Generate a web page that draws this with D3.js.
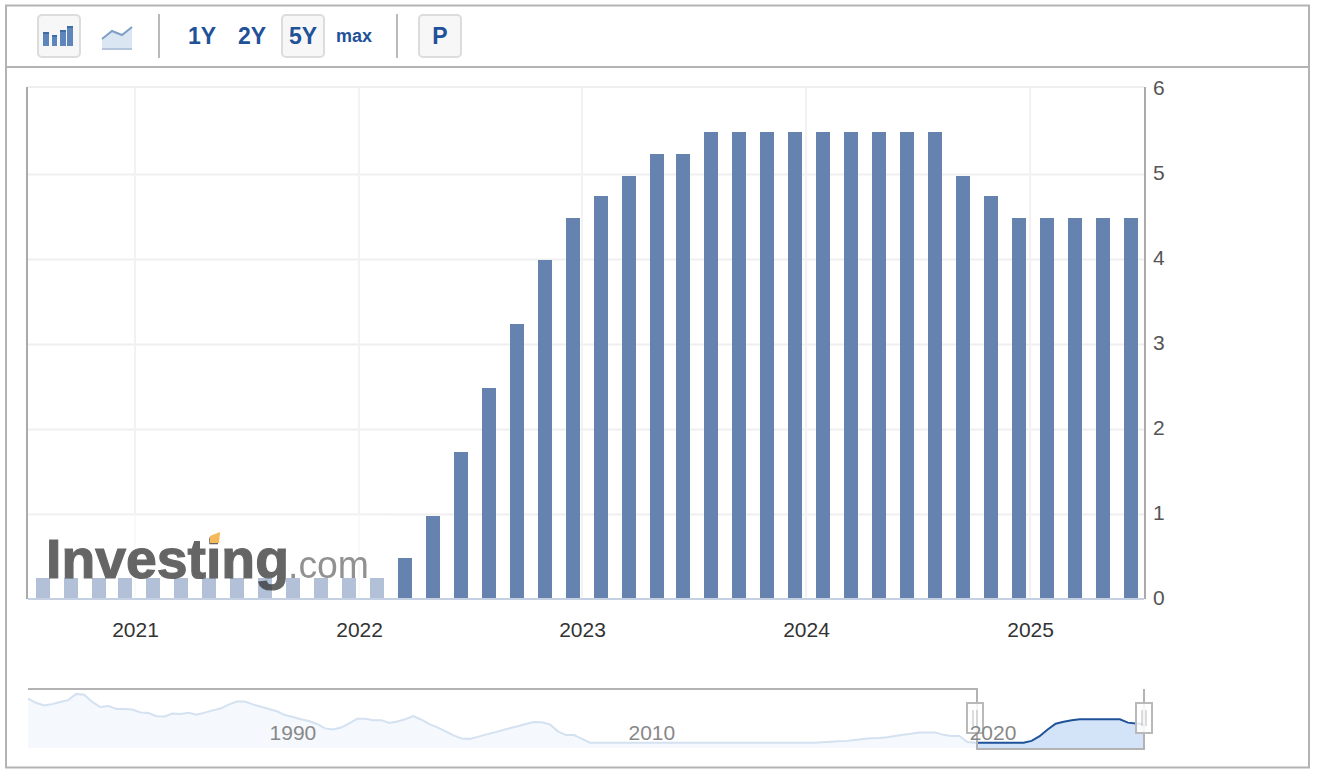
<!DOCTYPE html>
<html>
<head>
<meta charset="utf-8">
<script src="https://cdn.jsdelivr.net/npm/d3@7/dist/d3.min.js"></script>
<style>
  html, body { margin: 0; padding: 0; background: #fff; }
  text { font-family: "Liberation Sans", Arial, sans-serif; }
</style>
</head>
<body>
<svg id="chart" width="1318" height="776"></svg>
<script>
// one bar per rate decision, spaced evenly (ordinal axis)
const meetings = [
  "2020-07", "2020-09", "2020-11", "2020-12", "2021-01", "2021-03", "2021-04", "2021-06",
  "2021-07", "2021-09", "2021-11", "2021-12", "2022-01", "2022-03", "2022-05", "2022-06",
  "2022-07", "2022-09", "2022-11", "2022-12", "2023-02", "2023-03", "2023-05", "2023-06",
  "2023-07", "2023-09", "2023-11", "2023-12", "2024-01", "2024-03", "2024-05", "2024-06",
  "2024-07", "2024-09", "2024-11", "2024-12", "2025-01", "2025-03", "2025-05", "2025-06"
];
const rates = [
  0.25, 0.25, 0.25, 0.25, 0.25, 0.25, 0.25, 0.25,
  0.25, 0.25, 0.25, 0.25, 0.25, 0.5, 1, 1.75,
  2.5, 3.25, 4, 4.5, 4.75, 5, 5.25, 5.25,
  5.5, 5.5, 5.5, 5.5, 5.5, 5.5, 5.5, 5.5,
  5.5, 5, 4.75, 4.5, 4.5, 4.5, 4.5, 4.5
];
const yTicks = [0, 1, 2, 3, 4, 5, 6];
const yearLabels = ["2021", "2022", "2023", "2024", "2025"];
// where each year starts, counted in bars from the first one
const yearPositions = [3.29, 11.32, 19.31, 27.34, 35.37];

// the long history in the navigator, evenly sampled
const historyValues = [
  10.15, 9.2, 8.6, 8.9, 9.4, 9.8, 11.2, 11, 9.4, 8.25, 8.5, 7.8, 7.8, 7.7, 7.05, 6.9,
  6.2, 6.15, 6.8, 6.7, 6.95, 6.5, 7, 7.5, 7.9, 8.8, 9.5, 9.5, 8.85, 8.3, 7.8, 7.3,
  6.45, 6, 5.5, 5.1, 4.45, 3.45, 3.2, 3.65, 4.6, 5.6, 5.6, 5.3, 5.3, 4.65, 5, 5.5,
  6.2, 5.4, 4.4, 3.7, 2.8, 1.9, 1.2, 1.1, 1.55, 2.05, 2.5, 3, 3.5, 3.95, 4.45, 4.9,
  4.85, 4.35, 2.8, 1.95, 1.95, 1.1, 0.25, 0.25, 0.25, 0.25, 0.25, 0.25, 0.25, 0.25,
  0.25, 0.25, 0.25, 0.25, 0.25, 0.25, 0.25, 0.25, 0.25, 0.25, 0.25, 0.25, 0.25, 0.25,
  0.25, 0.25, 0.25, 0.25, 0.25, 0.25, 0.25, 0.35, 0.45, 0.55, 0.65, 0.85, 1.05, 1.25,
  1.3, 1.45, 1.75, 2, 2.25, 2.55, 2.55, 2.55, 2, 1.75, 1.75, 0.4, 0.25, 0.25, 0.25,
  0.25, 0.25, 0.25, 0.25, 0.65, 1.7, 3.2, 4.5, 4.95, 5.3, 5.5, 5.5, 5.5, 5.5, 5.5,
  5.5, 4.75, 4.55, 4.5
];
const historyLabels = ["1990", "2010", "2020"];
const historyLabelPositions = [33, 77.7, 120.2];
const selectionStart = 118.2;

const rangeButtons = ["1Y", "2Y", "5Y", "max"];

const svg = d3.select("#chart");
const blue = "#1f5299";
const barColor = "#6583ae";
const frameGrey = "#b3b3b3";

//THE FRAME
svg.append("rect")
   .attr("x", 6).attr("y", 5.5)
   .attr("width", 1303).attr("height", 762)
   .attr("fill", "#fff")
   .attr("stroke", frameGrey)
   .attr("stroke-width", 2);
svg.append("line")
   .attr("x1", 6).attr("x2", 1309)
   .attr("y1", 67).attr("y2", 67)
   .attr("stroke", frameGrey)
   .attr("stroke-width", 2);

//THE TOOLBAR
const toolbar = svg.append("g");
function button(x) {
  toolbar.append("rect")
         .attr("x", x).attr("y", 15)
         .attr("width", 42).attr("height", 42)
         .attr("rx", 4)
         .attr("fill", "#f7f7f7")
         .attr("stroke", "#dcdcdc")
         .attr("stroke-width", 2);
}
button(38);
button(282);
button(419);
[159, 397].forEach(x => {
  toolbar.append("line")
         .attr("x1", x).attr("x2", x)
         .attr("y1", 14).attr("y2", 58)
         .attr("stroke", "#b9b9b9")
         .attr("stroke-width", 2);
});
// bars icon
const iconBars = toolbar.selectAll(".icon-bar")
       .data([[43, 6, 14], [52, 5, 11], [60, 6, 16], [67, 6, 20]])
       .enter();
iconBars.append("rect")
       .attr("x", d => d[0])
       .attr("y", d => 46 - d[2])
       .attr("width", d => d[1])
       .attr("height", d => d[2])
       .attr("fill", "#5f86bb");
iconBars.append("rect")
       .attr("x", d => d[0])
       .attr("y", d => 46 - d[2])
       .attr("width", d => d[1])
       .attr("height", 2)
       .attr("fill", "#3f6ba6");
// area icon
toolbar.append("path")
       .attr("d", "M102,39 L112,31 L122,35 L132,27 L132,50 L102,50 Z")
       .attr("fill", "#dbe6f3");
toolbar.append("path")
       .attr("d", "M102,39 L112,31 L122,35 L132,27")
       .attr("fill", "none")
       .attr("stroke", "#7f9fc8")
       .attr("stroke-width", 2);
toolbar.append("line")
       .attr("x1", 102).attr("x2", 132)
       .attr("y1", 49).attr("y2", 49)
       .attr("stroke", "#b5c6dc")
       .attr("stroke-width", 2);

const buttonX = d3.scaleOrdinal().domain(rangeButtons).range([202, 252, 303, 354]);
toolbar.selectAll(".range")
       .data(rangeButtons)
       .enter().append("text")
       .attr("x", d => buttonX(d))
       .attr("y", d => d === "max" ? 42 : 44)
       .attr("text-anchor", "middle")
       .attr("font-size", d => d === "max" ? 18 : 23)
       .attr("font-weight", "bold")
       .attr("fill", blue)
       .text(d => d);
toolbar.append("text")
       .attr("x", 440).attr("y", 44)
       .attr("text-anchor", "middle")
       .attr("font-size", 23)
       .attr("font-weight", "bold")
       .attr("fill", blue)
       .text("P");

//THE SCALES
const barWidth = 14;
const xScale = d3.scaleLinear()
                 .domain([0, meetings.length - 1])
                 .range([43.25, 1131.35]);
const yScale = d3.scaleLinear()
                 .domain([0, 6])
                 .range([599, 89]);

//THE GRID
const grid = svg.append("g");
grid.selectAll(".hgrid")
    .data(yTicks.filter(d => d > 0 && d < 6))
    .enter().append("line")
    .attr("x1", 28).attr("x2", 1144)
    .attr("y1", d => yScale(d) + 0.5).attr("y2", d => yScale(d) + 0.5)
    .attr("stroke", "#efefef")
    .attr("stroke-width", 2);
grid.selectAll(".vgrid")
    .data(yearPositions)
    .enter().append("line")
    .attr("x1", d => xScale(d)).attr("x2", d => xScale(d))
    .attr("y1", 88).attr("y2", 598)
    .attr("stroke", "#f2f2f2")
    .attr("stroke-width", 2);

//THE BARS
// bars snap to even pixels like the original, which leaves a couple of short gaps
const snap = v => Math.floor(v / 2) * 2;
svg.append("g")
   .selectAll("rect")
   .data(rates)
   .enter().append("rect")
   .attr("x", (d, i) => snap(xScale(i) - barWidth / 2))
   .attr("y", d => snap(yScale(d)) + 2)
   .attr("width", barWidth)
   .attr("height", d => 598 - snap(yScale(d)) - 2)
   .attr("fill", barColor);

//THE AXES
const xAxis = d3.axisBottom(xScale)
                .tickValues(yearPositions)
                .tickFormat((d, i) => yearLabels[i])
                .tickSize(0)
                .tickPadding(24);
svg.append("g")
   .attr("transform", "translate(0, 598)")
   .call(xAxis)
   .call(g => g.select(".domain").remove())
   .selectAll("text")
   .attr("font-size", 21)
   .attr("fill", "#333");

const yAxis = d3.axisRight(yScale)
                .tickValues(yTicks)
                .tickFormat(d3.format("d"))
                .tickSize(0)
                .tickPadding(9);
svg.append("g")
   .attr("transform", "translate(1144, -1)")
   .call(yAxis)
   .call(g => g.select(".domain").remove())
   .selectAll("text")
   .attr("font-size", 21)
   .attr("fill", "#555");

// plot borders
const borders = svg.append("g").attr("stroke", "#aaa").attr("stroke-width", 2);
borders.append("line").attr("x1", 27).attr("x2", 27).attr("y1", 87).attr("y2", 599);
borders.append("line").attr("x1", 1145).attr("x2", 1145).attr("y1", 87).attr("y2", 599);
svg.append("line")
   .attr("x1", 28).attr("x2", 1144)
   .attr("y1", 87).attr("y2", 87)
   .attr("stroke", "#efefef")
   .attr("stroke-width", 2);
svg.append("line")
   .attr("x1", 28).attr("x2", 1144)
   .attr("y1", 599).attr("y2", 599)
   .attr("stroke", "#c5d1e3")
   .attr("stroke-width", 2);

//THE LOGO
svg.append("rect")
   .attr("x", 28).attr("y", 515)
   .attr("width", 360).attr("height", 83)
   .attr("fill", "#fff")
   .attr("opacity", 0.5);
const blur = svg.append("defs").append("filter").attr("id", "soft");
blur.append("feGaussianBlur").attr("stdDeviation", 0.6);
const logo = svg.append("g").attr("filter", "url(#soft)");
logo.append("text")
    .attr("x", 46).attr("y", 578)
    .attr("font-size", 56)
    .attr("font-weight", "bold")
    .attr("textLength", 243)
    .attr("lengthAdjust", "spacingAndGlyphs")
    .attr("fill", "#333")
    .attr("stroke", "#333")
    .attr("stroke-width", 1.2)
    .attr("opacity", 0.75)
    .text("Investing");
logo.append("text")
    .attr("x", 288).attr("y", 578)
    .attr("font-size", 38)
    .attr("textLength", 81)
    .attr("lengthAdjust", "spacingAndGlyphs")
    .attr("fill", "#777")
    .attr("opacity", 0.8)
    .text(".com");
logo.append("path")
    .attr("d", "M210,536 L220,532 L219,543 L210,543 Z")
    .attr("fill", "#f5b95a");

//THE NAVIGATOR
const navX = d3.scaleLinear()
               .domain([0, historyValues.length - 1])
               .range([28, 1144]);
const navY = d3.scaleLinear()
               .domain([-0.95, 12.3])
               .range([748, 689]);
const navArea = d3.area()
                  .x((d, i) => navX(i))
                  .y0(navY(-0.95))
                  .y1(d => navY(d));
const navLine = navArea.lineY1();
const nav = svg.append("g");
const selX = navX(selectionStart);

const defs = svg.append("defs");
defs.append("clipPath").attr("id", "before")
    .append("rect").attr("x", 28).attr("y", 680).attr("width", selX - 28).attr("height", 80);
defs.append("clipPath").attr("id", "after")
    .append("rect").attr("x", selX).attr("y", 680).attr("width", 1144 - selX).attr("height", 80);

const early = nav.append("g").attr("clip-path", "url(#before)");
early.append("path").attr("d", navArea(historyValues)).attr("fill", "#f5f9fe");
early.append("path").attr("d", navLine(historyValues))
     .attr("fill", "none").attr("stroke", "#d3e1f0").attr("stroke-width", 2);
const late = nav.append("g").attr("clip-path", "url(#after)");
late.append("path").attr("d", navArea(historyValues)).attr("fill", "#d3e3f8");
late.append("path").attr("d", navLine(historyValues))
    .attr("fill", "none").attr("stroke", blue).attr("stroke-width", 2);

nav.append("path")
   .attr("d", `M28,689 H${selX} V749 H1144 V689`)
   .attr("fill", "none")
   .attr("stroke", frameGrey)
   .attr("stroke-width", 2);

[selX - 2, 1144].forEach(x => {
  const handle = nav.append("g").attr("transform", `translate(${x}, 703)`);
  handle.append("rect")
        .attr("x", -8).attr("y", 0)
        .attr("width", 16).attr("height", 30)
        .attr("fill", "#fff")
        .attr("fill-opacity", 0.85)
        .attr("stroke", "#b9b9b9")
        .attr("stroke-width", 2);
  [-2, 2].forEach(dx => {
    handle.append("line")
          .attr("x1", dx).attr("x2", dx)
          .attr("y1", 7).attr("y2", 23)
          .attr("stroke", "#b9b9b9")
          .attr("stroke-width", 1);
  });
});

nav.selectAll(".nav-label")
   .data(historyLabels)
   .enter().append("text")
   .attr("x", (d, i) => navX(historyLabelPositions[i]))
   .attr("y", 740)
   .attr("text-anchor", "middle")
   .attr("font-size", 21)
   .attr("fill", "#888")
   .text(d => d);
</script>
</body>
</html>
